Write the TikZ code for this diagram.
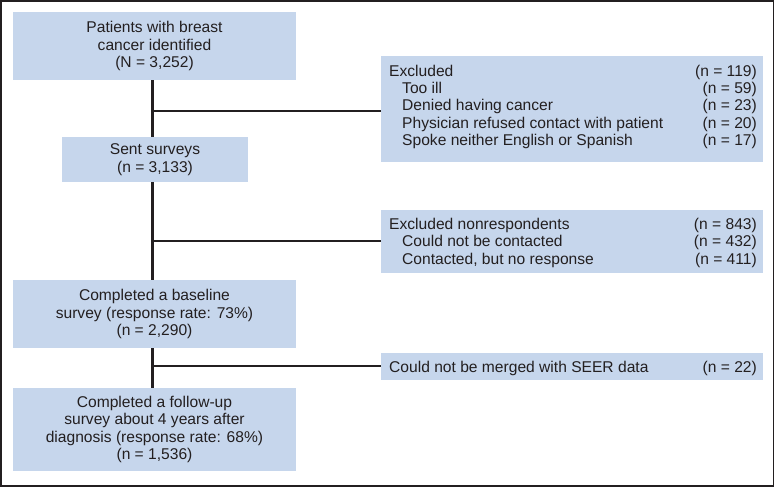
\documentclass[tikz,border=0pt]{standalone}
\usepackage{fontspec}
\setmainfont{Liberation Sans}
\definecolor{boxblue}{HTML}{C6D6EC}
\definecolor{framecol}{HTML}{231F20}
\begin{document}
\begin{tikzpicture}[x=1pt,y=-1pt,
  flowbox/.style={fill=boxblue, draw=none, inner sep=0pt, align=center, text=framecol, font=\fontsize{15.6}{17.6}\selectfont},
  sidebox/.style={fill=boxblue, draw=none, inner sep=0pt, minimum width=382pt},
  rowtext/.style={inner sep=0pt, text=framecol, font=\fontsize{15.6}{17.6}\selectfont},
  trunk/.style={draw=framecol, line width=2.2pt},
  branch/.style={draw=framecol, line width=1.7pt}
]
\useasboundingbox (0,0) rectangle (775,487);
\draw[framecol, line width=1.5pt] (1,1) rectangle (773.5,486);

% main column
\node[flowbox, minimum width=283pt, minimum height=68pt] (b1) at (154.5,46)
  {Patients with breast\\cancer identified\\(N = 3,252)};
\node[flowbox, minimum width=186pt, minimum height=45pt] (b2) at (155,159.5)
  {Sent surveys\\(n = 3,133)};
\node[flowbox, minimum width=283pt, minimum height=68pt] (b3) at (154.5,314)
  {Completed a baseline\\survey (response rate: 73\%)\\(n = 2,290)};
\node[flowbox, minimum width=283pt, minimum height=83pt] (b4) at (154.5,429.5)
  {Completed a follow-up\\survey about 4 years after\\diagnosis (response rate: 68\%)\\(n = 1,536)};

% side boxes
\node[sidebox, minimum height=106pt] (ex1) at (572,109) {};
\node[sidebox, minimum height=63pt] (ex2) at (572,241.5) {};
\node[sidebox, minimum height=27pt] (ex3) at (572,366.5) {};

% side box texts
\node[rowtext, anchor=base west] (ex1a) at (389,76) {Excluded};
\node[rowtext, anchor=base east] (ex1an) at (757,76) {(n = 119)};
\node[rowtext, anchor=base west] (ex1b) at (402,93.4) {Too ill};
\node[rowtext, anchor=base east] (ex1bn) at (757,93.4) {(n = 59)};
\node[rowtext, anchor=base west] (ex1c) at (402,110.8) {Denied having cancer};
\node[rowtext, anchor=base east] (ex1cn) at (757,110.8) {(n = 23)};
\node[rowtext, anchor=base west] (ex1d) at (402,128.2) {Physician refused contact with patient};
\node[rowtext, anchor=base east] (ex1dn) at (757,128.2) {(n = 20)};
\node[rowtext, anchor=base west] (ex1e) at (402,145.6) {Spoke neither English or Spanish};
\node[rowtext, anchor=base east] (ex1en) at (757,145.6) {(n = 17)};

\node[rowtext, anchor=base west] (ex2a) at (389,229) {Excluded nonrespondents};
\node[rowtext, anchor=base east] (ex2an) at (757,229) {(n = 843)};
\node[rowtext, anchor=base west] (ex2b) at (402,246.5) {Could not be contacted};
\node[rowtext, anchor=base east] (ex2bn) at (757,246.5) {(n = 432)};
\node[rowtext, anchor=base west] (ex2c) at (402,264) {Contacted, but no response};
\node[rowtext, anchor=base east] (ex2cn) at (757,264) {(n = 411)};

\node[rowtext, anchor=base west] (ex3a) at (389,372) {Could not be merged with SEER data};
\node[rowtext, anchor=base east] (ex3an) at (757,372) {(n = 22)};

% connectors
\coordinate (t1) at (152.5,111);
\coordinate (t2) at (152.5,241);
\coordinate (t3) at (152.5,366);
\draw[trunk] (b1.south -| t1) -- (b2.north -| t1);
\draw[trunk] (b2.south -| t1) -- (b3.north -| t1);
\draw[trunk] (b3.south -| t1) -- (b4.north -| t1);
\draw[branch] (t1) -- (t1 -| ex1.west);
\draw[branch] (t2) -- (t2 -| ex2.west);
\draw[branch] (t3) -- (t3 -| ex3.west);
\end{tikzpicture}
\end{document}
